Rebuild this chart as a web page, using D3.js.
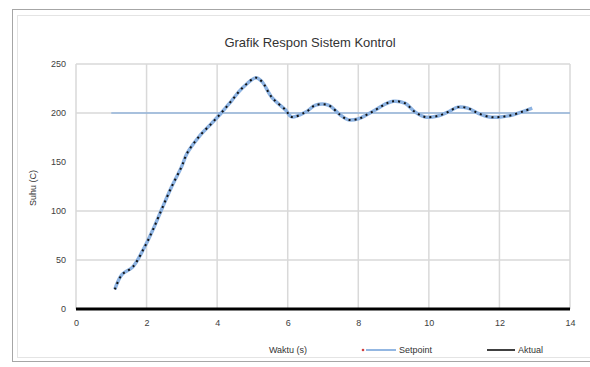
<!DOCTYPE html>
<html>
<head>
<meta charset="utf-8">
<script src="https://cdn.jsdelivr.net/npm/d3@7"></script>
<style>
body { margin: 0; background: #fff; }
text { font-family: "Liberation Sans", Arial, sans-serif; }
</style>
</head>
<body>
<svg width="590" height="367"></svg>
<script>
// data
var timeValues = [1.10, 1.30, 1.61, 1.94, 2.17, 2.42, 2.70, 2.99, 3.15, 3.49, 3.86, 4.14, 4.42, 4.70, 5.10, 5.27,
    5.55, 5.94, 6.11, 6.51, 6.79, 7.15, 7.49, 7.72, 8.00, 8.23, 8.48, 8.76, 8.99, 9.32, 9.61, 9.89,
    10.25, 10.54, 10.82, 11.10, 11.38, 11.72, 12.03, 12.37, 12.70, 12.93];
var actualValues = [20, 35, 43, 63, 80, 101, 124, 145, 159, 176, 190, 201, 213, 225, 236, 232,
    216, 203, 196, 201, 208, 208, 198, 193, 194, 198, 203, 209, 212, 210, 201, 196,
    197, 201, 206, 205, 200, 196, 196, 198, 202, 205];
var setpointTime = [1.0, 14.0];
var setpointValue = [200, 200];
var xTicks = [0, 2, 4, 6, 8, 10, 12, 14];
var yTicks = [0, 50, 100, 150, 200, 250];
var gridY = [50, 100, 200, 250];

var svg = d3.select("svg");

// chart frame
svg.append("rect").attr("x", 12.5).attr("y", 9.5).attr("width", 590).attr("height", 352)
    .attr("fill", "#fff").attr("stroke", "#a6a6a6");
svg.append("rect").attr("x", 17.5).attr("y", 15.5).attr("width", 590).attr("height", 342)
    .attr("fill", "none").attr("stroke", "#e4e4e4");

var x = d3.scaleLinear().domain([0, 14]).range([76, 570]);
var y = d3.scaleLinear().domain([0, 250]).range([309, 64]);

// gridlines
svg.append("g").selectAll("line").data(gridY).enter().append("line")
    .attr("x1", x(0)).attr("x2", x(14))
    .attr("y1", d => y(d)).attr("y2", d => y(d))
    .attr("stroke", "#d9d9d9").attr("stroke-width", 1.5);
svg.append("g").selectAll("line").data(xTicks).enter().append("line")
    .attr("x1", d => x(d)).attr("x2", d => x(d))
    .attr("y1", y(250)).attr("y2", y(0))
    .attr("stroke", "#d9d9d9").attr("stroke-width", 1.5);

// axes
var yAxis = svg.append("g").attr("transform", "translate(" + x(0) + ",0)")
    .call(d3.axisLeft(y).tickValues(yTicks).tickSize(0).tickPadding(10));
yAxis.select(".domain").remove();
yAxis.selectAll("text").attr("font-size", 9).attr("fill", "#404040");

var xAxis = svg.append("g").attr("transform", "translate(0," + y(0) + ")")
    .call(d3.axisBottom(x).tickValues(xTicks).tickSize(0).tickPadding(11));
xAxis.select(".domain").remove();
xAxis.selectAll("text").attr("font-size", 9).attr("fill", "#404040");

// thick baseline
svg.append("line").attr("x1", x(0)).attr("x2", x(14)).attr("y1", y(0)).attr("y2", y(0))
    .attr("stroke", "#000").attr("stroke-width", 3);

// setpoint
var pts = setpointTime.map((t, i) => [t, setpointValue[i]]);
svg.append("path").datum(pts)
    .attr("d", d3.line().x(d => x(d[0])).y(d => y(d[1])))
    .attr("fill", "none").attr("stroke", "#6f9fd8").attr("stroke-width", 1);

// response curves
var resp = timeValues.map((t, i) => [t, actualValues[i]]);
svg.append("path").datum(resp)
    .attr("d", d3.line().curve(d3.curveCatmullRom).x(d => x(d[0])).y(d => y(d[1])))
    .attr("fill", "none").attr("stroke", "#8db3e2").attr("stroke-width", 3.5);
svg.append("path").datum(resp)
    .attr("d", d3.line().curve(d3.curveCatmullRom).x(d => x(d[0])).y(d => y(d[1])))
    .attr("fill", "none").attr("stroke", "#111").attr("stroke-width", 2)
    .attr("stroke-dasharray", "2,4");

// titles
svg.append("text").attr("x", 310).attr("y", 47).attr("text-anchor", "middle")
    .attr("font-size", 13).attr("fill", "#333").text("Grafik Respon Sistem Kontrol");
svg.append("text").attr("transform", "translate(36,188) rotate(-90)")
    .attr("text-anchor", "middle").attr("font-size", 9).attr("fill", "#333").text("Suhu (C)");

// legend
var lg = svg.append("g").attr("font-size", 9).attr("fill", "#333");
lg.append("text").attr("x", 288).attr("y", 353).attr("text-anchor", "middle").text("Waktu (s)");
lg.append("circle").attr("cx", 363).attr("cy", 350).attr("r", 1.3).attr("fill", "#d04040");
lg.append("line").attr("x1", 366).attr("x2", 396).attr("y1", 350).attr("y2", 350)
    .attr("stroke", "#6f9fd8").attr("stroke-width", 1.5);
lg.append("text").attr("x", 399).attr("y", 353).text("Setpoint");
lg.append("line").attr("x1", 487).attr("x2", 515).attr("y1", 350).attr("y2", 350)
    .attr("stroke", "#000").attr("stroke-width", 1.5);
lg.append("text").attr("x", 518).attr("y", 353).text("Aktual");
</script>
</body>
</html>
